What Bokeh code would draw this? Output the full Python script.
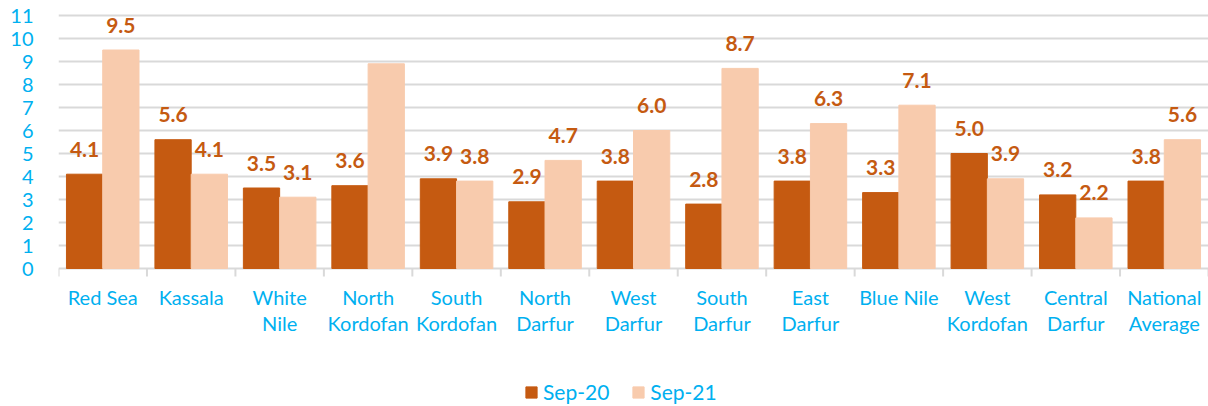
from bokeh.plotting import figure
from bokeh.models import FixedTicker, Legend, LegendItem, Range1d, ColumnDataSource
from bokeh.embed import file_html
from bokeh.resources import INLINE
from bokeh.core.properties import value

regions = ["Red Sea", "Kassala", "White\nNile", "North\nKordofan", "South\nKordofan",
           "North\nDarfur", "West\nDarfur", "South\nDarfur", "East\nDarfur", "Blue Nile",
           "West\nKordofan", "Central\nDarfur", "National\nAverage"]
sep20 = [4.1, 5.6, 3.5, 3.6, 3.9, 2.9, 3.8, 2.8, 3.8, 3.3, 5.0, 3.2, 3.8]
sep21 = [9.5, 4.1, 3.1, 8.9, 3.8, 4.7, 6.0, 8.7, 6.3, 7.1, 3.9, 2.2, 5.6]
hidden21 = [3]  # label not shown in the original for North Kordofan Sep-21
series_names = ["Sep-20", "Sep-21"]
y_ticks = list(range(0, 12))

DARK = "#C55A11"
LIGHT = "#F8CBAD"
BLUE = "#00B0F0"
GRID = "#D9D9D9"
FONT = "Lato"

W, H = 1208, 406
LEFT = 58          # px left of plotting area
TOP_PX = 15        # px from top to the y=11 gridline
ZERO_PX = 268      # px from top to the y=0 line
ppu = (ZERO_PX - TOP_PX) / 11.0   # px per unit
y_top = 11 + TOP_PX / ppu
y_bot = -(H - ZERO_PX) / ppu

n = len(regions)
xs = list(range(n))
off = 0.205
bw = 0.41

lab20 = [f"{v:.1f}" for v in sep20]
lab21 = ["" if i in hidden21 else f"{v:.1f}" for i, v in enumerate(sep21)]

s20 = ColumnDataSource(dict(x=[x - off for x in xs], top=sep20, lab=lab20))
s21 = ColumnDataSource(dict(x=[x + off for x in xs], top=sep21, lab=lab21))

p = figure(width=W, height=H, output_backend="svg", toolbar_location=None,
           x_range=Range1d(-0.5, n - 0.5), y_range=Range1d(y_bot, y_top),
           min_border_left=LEFT, min_border_right=0, min_border_top=0, min_border_bottom=0,
           x_axis_location=None)
p.outline_line_color = None
p.background_fill_color = "white"

r20 = p.vbar(x="x", top="top", bottom=0, width=bw, source=s20, fill_color=DARK, line_color=DARK)
r21 = p.vbar(x="x", top="top", bottom=0, width=bw, source=s21, fill_color=LIGHT, line_color=LIGHT)

for src in (s20, s21):
    p.text(x="x", y="top", text="lab", source=src, y_offset=-25,
           text_align="center", text_baseline="middle", text_color=DARK,
           text_font=value(FONT), text_font_size="21px", text_font_style="bold")

# y axis
p.yaxis.ticker = FixedTicker(ticks=y_ticks)
p.yaxis.axis_line_color = None
p.yaxis.major_tick_line_color = None
p.yaxis.minor_tick_line_color = None
p.yaxis.major_label_text_color = BLUE
p.yaxis.major_label_text_font = FONT
p.yaxis.major_label_text_font_size = "20px"
p.yaxis.major_label_standoff = 19
p.ygrid.ticker = FixedTicker(ticks=y_ticks)
p.ygrid.grid_line_color = GRID
p.ygrid.grid_line_width = 2
p.xgrid.grid_line_color = None

# category boundary ticks below the zero line
bounds = [i - 0.5 for i in range(n + 1)]
tick_len = 8 / ppu
p.segment(x0=bounds, y0=[0] * len(bounds), x1=bounds, y1=[-tick_len] * len(bounds),
          line_color=GRID, line_width=2)

# category labels
p.text(x=xs, y=[0] * n, text=regions, y_offset=16,
       text_align="center", text_baseline="top", text_color=BLUE,
       text_font=value(FONT), text_font_size="20px", text_line_height=1.12)

legend = Legend(items=[LegendItem(label=series_names[0], renderers=[r20]),
                       LegendItem(label=series_names[1], renderers=[r21])],
                orientation="horizontal", location=(466, 2))
legend.label_text_color = BLUE
legend.label_text_font = FONT
legend.label_text_font_size = "21px"
legend.glyph_width = 14
legend.glyph_height = 14
legend.spacing = 22
legend.border_line_color = None
legend.background_fill_alpha = 0
legend.margin = 0
legend.padding = 2
p.add_layout(legend, "center")

open("out.html", "w").write(file_html(p, INLINE))
